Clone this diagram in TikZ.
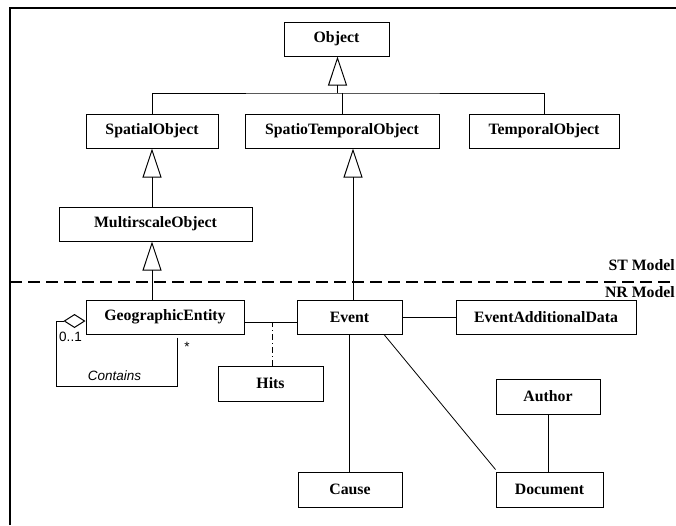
\documentclass[tikz,border=0pt]{standalone}
\usepackage{fontspec}
\setmainfont{Liberation Serif}
\setsansfont{Liberation Sans}
\usetikzlibrary{arrows.meta}

\tikzset{
	classbox/.style={draw,line width=1pt,minimum height=34pt,inner sep=0pt,font=\fontsize{15.8}{18}\selectfont\bfseries},
	gen/.style={line width=1pt,-{Triangle[open,length=29pt,width=19pt]}},
	assoc/.style={line width=1pt},
	agg/.style={line width=1pt,-{Diamond[open,length=22pt,width=14pt]}},
	lbl/.style={inner sep=0pt,font=\fontsize{13.5}{16}\selectfont\sffamily},
	modellbl/.style={inner sep=0pt,anchor=base east,font=\fontsize{15.8}{18}\selectfont\bfseries}
}

\begin{document}
\begin{tikzpicture}[x=1pt,y=-1pt]
	\useasboundingbox (0,0) rectangle (676,525);
	\fill[white] (0,0) rectangle (676,525);
	\draw[line width=2.3pt] (10,525) -- (10,8) -- (676,8);
	\draw[line width=1.2pt,dash pattern=on 12pt off 6pt] (10,282) -- (676,282);

	\node[classbox,minimum width=105pt] (object) at (336.5,39) {Object};
	\node[classbox,minimum width=132pt] (spatial) at (152,131) {SpatialObject};
	\node[classbox,minimum width=194pt] (spatiotemporal) at (342,131) {SpatioTemporalObject};
	\node[classbox,minimum width=150pt] (temporal) at (544,131) {TemporalObject};
	\node[classbox,minimum width=193pt] (multiscale) at (155.5,224) {MultirscaleObject};
	\node[classbox,minimum width=158pt] (geo) at (165,317) {GeographicEntity};
	\node[classbox,minimum width=105pt] (event) at (349.5,317) {Event};
	\node[classbox,minimum width=180pt] (additional) at (546,317) {EventAdditionalData};
	\node[classbox,minimum width=105pt,minimum height=35pt] (hits) at (270.5,383.5) {Hits};
	\node[classbox,minimum width=104pt,minimum height=35pt] (author) at (548,396.5) {Author};
	\node[classbox,minimum width=104pt,minimum height=35pt] (cause) at (350,489.5) {Cause};
	\node[classbox,minimum width=107pt,minimum height=35pt] (document) at (549.5,489.5) {Document};

	\node[modellbl] (stmodel) at (675,270) {ST Model};
	\node[modellbl] (nrmodel) at (675,297) {NR Model};

	\coordinate (bar) at (337.5,93);
	\coordinate (loop) at (56,386);
	\coordinate (hitsjoin) at (272,322);

	\draw[gen] (bar) -- (bar |- object.south);
	\draw[assoc] (spatial.north) |- (bar) -| (temporal.north);
	\draw[assoc] (spatiotemporal.north) -- (spatiotemporal.north |- bar);
	\draw[gen] (spatial.south |- multiscale.north) -- (spatial.south);
	\draw[gen] (spatial.south |- geo.north) -- (spatial.south |- multiscale.south);
	\draw[gen] ([xshift=3.5pt]event.north) -- ([xshift=3.5pt]event.north |- spatiotemporal.south);

	\draw[agg] ([xshift=12pt,yshift=-3pt]geo.south) |- (loop) |- ([yshift=-4pt]geo.west);
	\node[lbl] (mult) at (70.5,337) {0..1};
	\node[lbl] (star) at (187,347) {*};
	\node[lbl,font=\fontsize{13.5}{16}\selectfont\sffamily\itshape] (contains) at (114.5,376) {Contains};

	\draw[assoc] ([yshift=-5pt]geo.east) -- ([yshift=-5pt]geo.east -| event.west);
	\draw[line width=1pt,dash pattern=on 6pt off 3pt on 1pt off 3pt] (hits.north -| hitsjoin) -- (hitsjoin);
	\draw[assoc] (event.east) -- (event.east -| additional.west);
	\draw[assoc] (event.south) -- (event.south |- cause.north);
	\draw[line width=0.8pt] ([xshift=34.5pt]event.south) -- ([yshift=2pt]document.north west);
	\draw[assoc] (author.south) -- (author.south |- document.north);
\end{tikzpicture}
\end{document}
